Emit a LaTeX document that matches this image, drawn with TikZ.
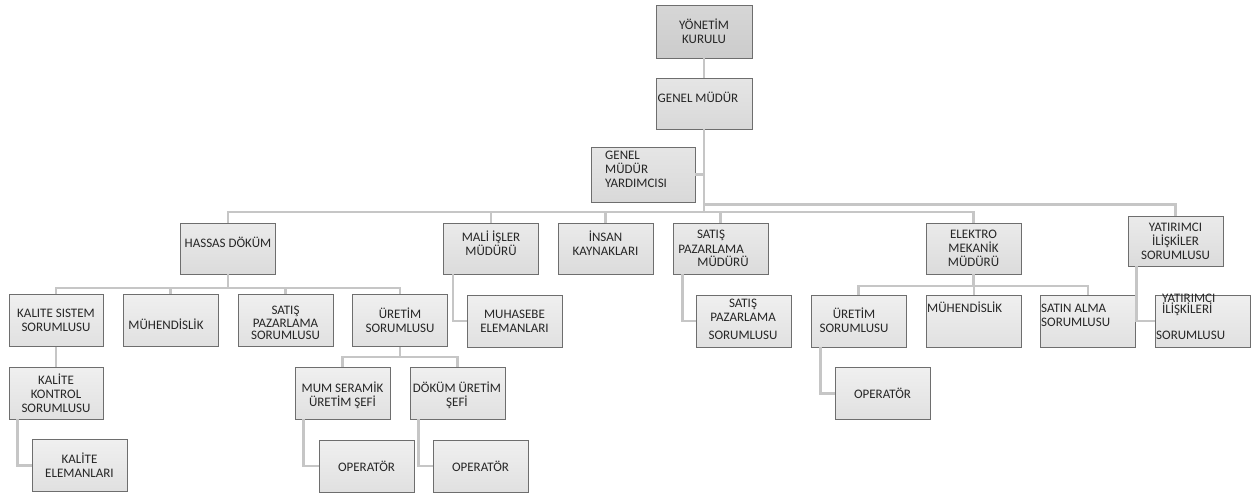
\documentclass[tikz,border=0pt]{standalone}
\usepackage{fontspec}
\setmainfont{Carlito}
\usetikzlibrary{positioning}
\definecolor{boxline}{HTML}{6E6E6E}
\definecolor{wirecol}{HTML}{C6C6C6}
\definecolor{ink}{HTML}{262626}
\tikzset{
    unit/.style = {
        draw = boxline,
        line width = 0.9pt,
        minimum width = 95pt,
        minimum height = 52pt,
        inner sep = 0pt,
        text = ink,
        align = center,
        font = \fontsize{13}{14}\selectfont,
        },
    board/.style = {
        unit,
        top color = gray!32,
        bottom color = gray!40,
        },
    head/.style = {
        unit,
        top color = gray!20,
        bottom color = gray!30,
        },
    dept/.style = {
        unit,
        top color = gray!12,
        bottom color = gray!24,
        },
    caption/.style = {
        inner sep = 0pt,
        text = ink,
        font = \fontsize{13}{14}\selectfont,
        },
    wire/.style = {
        draw = wirecol,
        line width = 2.2pt,
        },
}

\begin{document}
\begin{tikzpicture}[x=1pt, y=-1pt]
    \useasboundingbox (0,0) rectangle (1255,493);

    % top of the chart
    \node[board, minimum width=96pt, minimum height=53pt] (kurulu) at (704,31.5) {Y\"ONET\.IM\\KURULU};
    \node[head, minimum width=96pt, minimum height=51pt] (genel) at (704,103.5) {};
    \node[caption] (genelT) at (698,97) {GENEL M\"UD\"UR};
    \node[head, minimum width=104pt, minimum height=55pt] (yard) at (643,174.5) {};
    \node[caption, anchor=west, align=left] (yardT) at (605,169) {GENEL\\M\"UD\"UR\\YARDIMCISI};

    % second row
    \node[dept, top color=gray!16, bottom color=gray!28, minimum height=51pt] (hassas) at (228,248.5) {};
    \node[caption, yshift=6pt] (hassasT) at (hassas) {HASSAS D\"OK\"UM};
    \node[dept, top color=gray!16, bottom color=gray!28, minimum height=51pt] (mali) at (491,248.5) {};
    \node[caption, yshift=5.5pt, align=center] (maliT) at (mali) {MAL\.I \.I\c{S}LER\\M\"UD\"UR\"U};
    \node[dept, top color=gray!16, bottom color=gray!28, minimum height=51pt] (insan) at (605.5,248.5) {};
    \node[caption, yshift=5.5pt, align=center] (insanT) at (insan) {\.INSAN\\KAYNAKLARI};
    \node[dept, top color=gray!16, bottom color=gray!28, minimum height=51pt] (spm) at (720.5,248.5) {};
    \node[caption, align=center, font=\fontsize{13}{15}\selectfont] (spmT) at (711,242) {SATI\c{S}\\PAZARLAMA};
    \node[caption] (spmU) at (723,261) {M\"UD\"UR\"U};
    \node[dept, top color=gray!16, bottom color=gray!28, minimum height=51pt] (elektro) at (973.5,248.5) {ELEKTRO\\MEKAN\.IK\\M\"UD\"UR\"U};
    \node[dept, top color=gray!16, bottom color=gray!28, minimum height=50pt] (yatir) at (1175.5,241) {YATIRIMCI\\\.IL\.I\c{S}K\.ILER\\SORUMLUSU};

    % third row
    \node[dept, minimum width=94pt] (kalsis) at (56,320.5) {KALITE SISTEM\\SORUMLUSU};
    \node[dept] (muh) at (170.5,320.5) {};
    \node[caption] (muhT) at (166,324) {M\"UHEND\.ISL\.IK};
    \node[dept] (sps) at (285.5,320.5) {};
    \node[caption, align=center, font=\fontsize{13}{12.5}\selectfont] (spsT) at (285.5,323) {SATI\c{S}\\PAZARLAMA\\SORUMLUSU};
    \node[dept] (uret) at (400,320.5) {\"URET\.IM\\SORUMLUSU};
    \node[dept] (muhas) at (514.5,321) {MUHASEBE\\ELEMANLARI};
    \node[dept] (sps2) at (744,321) {};
    \node[caption, align=center, font=\fontsize{13}{14}\selectfont] (sps2T) at (743,310) {SATI\c{S}\\PAZARLAMA};
    \node[caption] (sps2U) at (743,335) {SORUMLUSU};
    \node[dept] (uret2) at (858.5,321) {};
    \node[caption, align=center] (uret2T) at (854,320) {\"URET\.IM\\SORUMLUSU};
    \node[dept] (muh2) at (974,321) {};
    \node[caption, anchor=west] (muh2T) at (927,307) {M\"UHEND\.ISL\.IK};
    \node[dept] (satin) at (1088,321) {};
    \node[caption, anchor=west, align=left] (satinT) at (1041,315) {SATIN ALMA\\SORUMLUSU};
    \node[dept] (yil) at (1202.5,321) {};
    \node[caption, anchor=west, align=left, font=\fontsize{13}{11}\selectfont] (yilT) at (1162,305) {YATIRIMCI\\\.IL\.I\c{S}K\.ILER\.I};
    \node[caption, anchor=west] (yilU) at (1156,335) {SORUMLUSU};

    % fourth and fifth rows
    \node[dept, minimum width=94pt] (kalkon) at (56,393) {KAL\.ITE\\KONTROL\\SORUMLUSU};
    \node[dept] (kalel) at (79.5,465.5) {KAL\.ITE\\ELEMANLARI};
    \node[dept] (mum) at (342.5,393) {};
    \node[caption, align=center] (mumT) at (342.5,395) {MUM SERAM\.IK\\\"URET\.IM \c{S}EF\.I};
    \node[dept] (dokum) at (457.5,393) {};
    \node[caption, align=center] (dokumT) at (457,395) {D\"OK\"UM \"URET\.IM\\\c{S}EF\.I};
    \node[dept] (op1) at (366.5,466) {OPERAT\"OR};
    \node[dept] (op2) at (480.5,466) {OPERAT\"OR};
    \node[dept] (op3) at (882.5,393.5) {OPERAT\"OR};

    % buses
    \coordinate (rbus) at (0,204.5);
    \coordinate (mbus) at (0,212);
    \coordinate (hbus) at (0,288);
    \coordinate (ebus) at (0,286);
    \coordinate (ubus) at (0,357);

    \draw[wire] (kurulu) -- (genel);
    \draw[wire] (genel.south) -- (genel.south |- mbus);
    \draw[wire] (yard.east) -- (yard.east -| genel.south);
    \draw[wire] (genel.south |- rbus) -| (yatir.north);
    \draw[wire] (hassas.north) |- (elektro.north |- mbus) -- (elektro.north);
    \foreach \n in {mali, insan, spm}
        \draw[wire] (\n.north) -- (\n.north |- mbus);

    \draw[wire] (hassas.south) -- (hassas.south |- hbus);
    \draw[wire] (kalsis.north) |- (uret.north |- hbus) -- (uret.north);
    \foreach \n in {muh, sps}
        \draw[wire] (\n.north) -- (\n.north |- hbus);

    \draw[wire] (elektro.south) -- (elektro.south |- ebus);
    \draw[wire] (uret2.north) |- (satin.north |- ebus) -- (satin.north);
    \draw[wire] (muh2.north) -- (muh2.north |- ebus);

    \draw[wire] (uret.south) -- (uret.south |- ubus);
    \draw[wire] (mum.north) |- (dokum.north |- ubus) -- (dokum.north);

    % side branches
    \draw[wire] ([xshift=10pt]mali.south west) |- (muhas.west);
    \draw[wire] ([xshift=10pt]spm.south west) |- (sps2.west);
    \draw[wire] ([xshift=9pt]yatir.south west) |- (yil.west);
    \draw[wire] (kalsis) -- (kalkon);
    \draw[wire] ([xshift=9pt]kalkon.south west) |- (kalel.west);
    \draw[wire] ([xshift=9pt]mum.south west) |- (op1.west);
    \draw[wire] ([xshift=9pt]dokum.south west) |- (op2.west);
    \draw[wire] ([xshift=10pt]uret2.south west) |- (op3.west);
\end{tikzpicture}
\end{document}
